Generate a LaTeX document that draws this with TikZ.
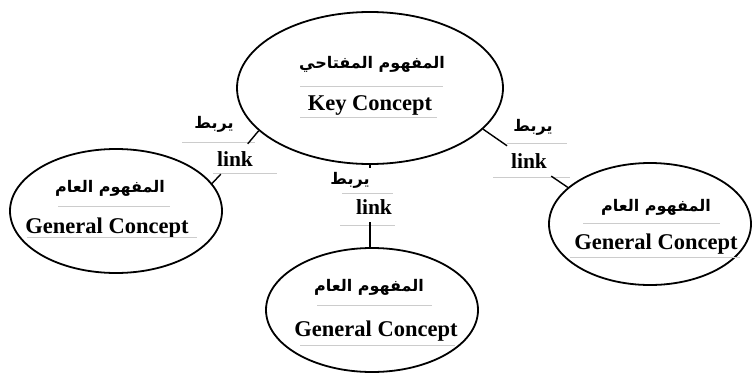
\documentclass[tikz,border=0pt]{standalone}
\usepackage{fontspec}
\setmainfont{Liberation Serif}
\newfontfamily\arabicfont[Script=Arabic]{DejaVu Sans}
\TeXXeTstate=1
\usetikzlibrary{shapes.geometric}
\newcommand{\ar}[1]{\arabicfont\bfseries\beginR #1\endR}
\begin{document}
\begin{tikzpicture}[x=1pt,y=-1pt,
  concept/.style={ellipse, draw, line width=1.8pt, inner sep=0pt},
  entext/.style={font=\fontsize{22.5}{26}\selectfont\bfseries, inner sep=0pt},
  artext/.style={font=\fontsize{16}{19}\selectfont, inner sep=0pt},
  linkbox/.style={font=\fontsize{21.5}{25}\selectfont\bfseries, minimum width=44pt, minimum height=30pt, inner sep=0pt},
  rule/.style={draw=black!20, line width=0.6pt},
  conn/.style={line width=1.4pt}]
\useasboundingbox (0,0) rectangle (752,372);

% concept ellipses
\node[concept, minimum width=266pt, minimum height=152pt] (key) at (370,88) {};
\node[concept, minimum width=212pt, minimum height=124pt] (gl) at (116,211) {};
\node[concept, minimum width=212pt, minimum height=124pt] (gb) at (372,310) {};
\node[concept, minimum width=202pt, minimum height=122pt] (gr) at (650,224) {};

% texts inside the ellipses
\node[artext] (keyar) at (372,64) {\ar{المفهوم المفتاحي}};
\node[entext] (keyen) at (370,105) {Key Concept};
\node[artext] (glar) at (110,188) {\ar{المفهوم العام}};
\node[entext] (glen) at (107,228) {General Concept};
\node[artext] (gbar) at (369,287) {\ar{المفهوم العام}};
\node[entext] (gben) at (376,331) {General Concept};
\node[artext] (grar) at (656,207) {\ar{المفهوم العام}};
\node[entext] (gren) at (656,244) {General Concept};

% link labels
\node[artext] (arL) at (214,124) {\ar{يربط}};
\node[linkbox] (lkL) at (235,159) {link};
\node[artext] (arM) at (350,180) {\ar{يربط}};
\node[linkbox] (lkM) at (374,207) {link};
\node[artext] (arR) at (533,127) {\ar{يربط}};
\node[linkbox] (lkR) at (529,161) {link};

% faint rules under the texts
\draw[rule] (300,86) -- (443,86);
\draw[rule] (300,117) -- (437,117);
\draw[rule] (58,206) -- (170,206);
\draw[rule] (27,237) -- (197,237);
\draw[rule] (317,305) -- (432,305);
\draw[rule] (300,345) -- (455,345);
\draw[rule] (583,223) -- (720,223);
\draw[rule] (570,257) -- (740,257);
\draw[rule] (182,142) -- (255,142);
\draw[rule] (213,173) -- (277,173);
\draw[rule] (342,193) -- (393,193);
\draw[rule] (340,225) -- (395,225);
\draw[rule] (507,143) -- (567,143);
\draw[rule] (493,177) -- (570,177);

% connectors
\draw[conn] (key.201) -- (lkL);
\draw[conn] (lkL) -- (gl.16);
\draw[conn] (key.south) -- +(0,3);
\draw[conn] (lkM.south -| key.south) -- (gb.north -| key.south);
\draw[conn] (key.340) -- (lkR);
\draw[conn] (lkR) -- (gr.156);
\end{tikzpicture}
\end{document}
